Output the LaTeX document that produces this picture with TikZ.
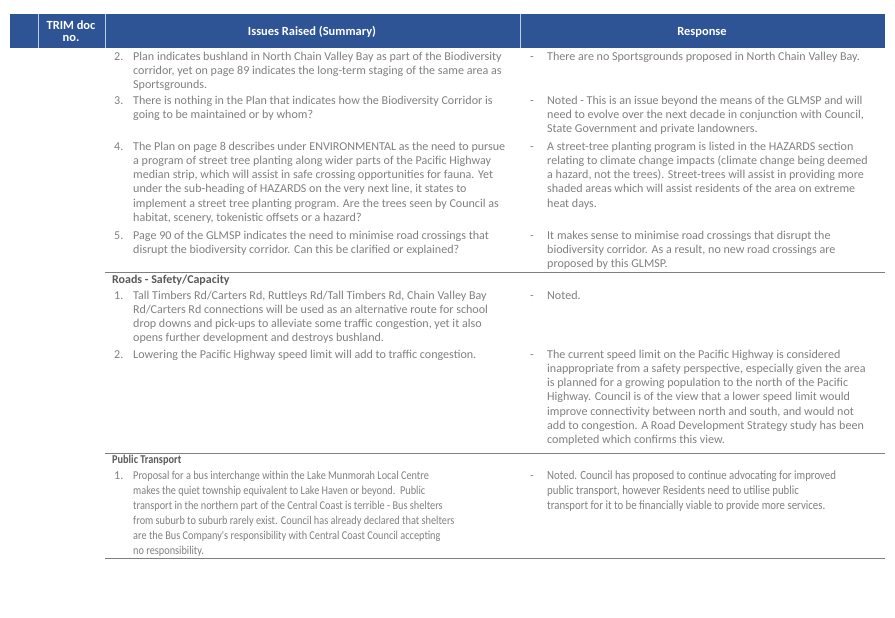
\documentclass[tikz,border=0pt]{standalone}
\usepackage{fontspec}
\setmainfont{Carlito}
\newfontfamily\condfont[FakeStretch=0.86]{Carlito}
\definecolor{hdr}{HTML}{2F5496}
\definecolor{txt}{HTML}{808080}
\definecolor{htxt}{HTML}{595959}
\definecolor{rule}{HTML}{7F7F7F}
\begin{document}
\begin{tikzpicture}[x=1bp,y=-1bp,
  body/.style={anchor=north west,inner sep=0pt,align=left,text=txt,font=\fontsize{12.1}{14.3}\selectfont},
  num/.style={body},
  head/.style={anchor=north west,inner sep=0pt,text=htxt,font=\fontsize{12}{14}\selectfont\bfseries},
  hdrtext/.style={text=white,font=\fontsize{12.5}{13}\selectfont\bfseries,align=center},
  sep/.style={draw=rule,line width=0.9bp}]
\useasboundingbox (0,0) rectangle (895,618);
\fill[hdr] (10,14) rectangle (885,48);
\draw[white!70!hdr,line width=0.6bp] (38,14) -- (38,48) (105,14) -- (105,48) (520,14) -- (520,48);
\node[hdrtext] (h1) at (71,31) {TRIM doc\\[-1pt]no.};
\node[hdrtext] (h2) at (312,32) {Issues Raised (Summary)};
\node[hdrtext] (h3) at (702,32) {Response};
% row 1 issues
\node[num] (n2) at (114,50) {\strut 2.};
\node[body] (i2) at (133,50) {\strut Plan indicates bushland in North Chain Valley Bay as part of the Biodiversity\\corridor, yet on page 89 indicates the long-term staging of the same area as\\Sportsgrounds.};
\node[num] (n3) at (114,94) {\strut 3.};
\node[body] (i3) at (133,94) {\strut There is nothing in the Plan that indicates how the Biodiversity Corridor is\\going to be maintained or by whom?};
\node[num] (n4) at (114,140) {\strut 4.};
\node[body] (i4) at (133,140) {\strut The Plan on page 8 describes under ENVIRONMENTAL as the need to pursue\\a program of street tree planting along wider parts of the Pacific Highway\\median strip, which will assist in safe crossing opportunities for fauna. Yet\\under the sub-heading of HAZARDS on the very next line, it states to\\implement a street tree planting program. Are the trees seen by Council as\\habitat, scenery, tokenistic offsets or a hazard?};
\node[num] (n5) at (114,229) {\strut 5.};
\node[body] (i5) at (133,229) {\strut Page 90 of the GLMSP indicates the need to minimise road crossings that\\disrupt the biodiversity corridor. Can this be clarified or explained?};
% row 1 responses
\node[num] (d1) at (530,50) {\strut -};
\node[body] (r1) at (547,50) {\strut There are no Sportsgrounds proposed in North Chain Valley Bay.};
\node[num] (d2) at (530,94) {\strut -};
\node[body] (r2) at (547,94) {\strut Noted - This is an issue beyond the means of the GLMSP and will\\need to evolve over the next decade in conjunction with Council,\\State Government and private landowners.};
\node[num] (d3) at (530,140) {\strut -};
\node[body] (r3) at (547,140) {\strut A street-tree planting program is listed in the HAZARDS section\\relating to climate change impacts (climate change being deemed\\a hazard, not the trees). Street-trees will assist in providing more\\shaded areas which will assist residents of the area on extreme\\heat days.};
\node[num] (d4) at (530,229) {\strut -};
\node[body] (r4) at (547,229) {\strut It makes sense to minimise road crossings that disrupt the\\biodiversity corridor. As a result, no new road crossings are\\proposed by this GLMSP.};
\coordinate (s1a) at (105,272); \coordinate (s1b) at (885,272);
\draw[sep] (s1a) -- (s1b);
% roads
\node[head] (roads) at (112,274) {\strut Roads - Safety/Capacity};
\node[num] (rn1) at (114,289) {\strut 1.};
\node[body] (ri1) at (133,289) {\strut Tall Timbers Rd/Carters Rd, Ruttleys Rd/Tall Timbers Rd, Chain Valley Bay\\Rd/Carters Rd connections will be used as an alternative route for school\\drop downs and pick-ups to alleviate some traffic congestion, yet it also\\opens further development and destroys bushland.};
\node[num] (rn2) at (114,348) {\strut 2.};
\node[body] (ri2) at (133,348) {\strut Lowering the Pacific Highway speed limit will add to traffic congestion.};
\node[num] (rd1) at (530,289) {\strut -};
\node[body] (rr1) at (547,289) {\strut Noted.};
\node[num] (rd2) at (530,348) {\strut -};
\node[body] (rr2) at (547,348) {\strut The current speed limit on the Pacific Highway is considered\\inappropriate from a safety perspective, especially given the area\\is planned for a growing population to the north of the Pacific\\Highway. Council is of the view that a lower speed limit would\\improve connectivity between north and south, and would not\\add to congestion. A Road Development Strategy study has been\\completed which confirms this view.};
\coordinate (s2a) at (105,453); \coordinate (s2b) at (885,453);
\draw[sep] (s2a) -- (s2b);
% public transport
\node[head,font=\condfont\fontsize{12}{14}\selectfont\bfseries] (pt) at (112,454) {\strut Public Transport};
\node[num] (pn1) at (114,469) {\strut 1.};
\node[body,font=\condfont\fontsize{12}{15}\selectfont] (pi1) at (133,469) {\strut Proposal for a bus interchange within the Lake Munmorah Local Centre\\makes the quiet township equivalent to Lake Haven or beyond.\ \ Public\\transport in the northern part of the Central Coast is terrible - Bus shelters\\from suburb to suburb rarely exist. Council has already declared that shelters\\are the Bus Company's responsibility with Central Coast Council accepting\\no responsibility.};
\node[num] (pd1) at (530,469) {\strut -};
\node[body,font=\condfont\fontsize{12.6}{15}\selectfont] (pr1) at (547,469) {\strut Noted. Council has proposed to continue advocating for improved\\public transport, however Residents need to utilise public\\transport for it to be financially viable to provide more services.};
\coordinate (s3a) at (105,558); \coordinate (s3b) at (885,558);
\draw[sep] (s3a) -- (s3b);
\end{tikzpicture}
\end{document}
